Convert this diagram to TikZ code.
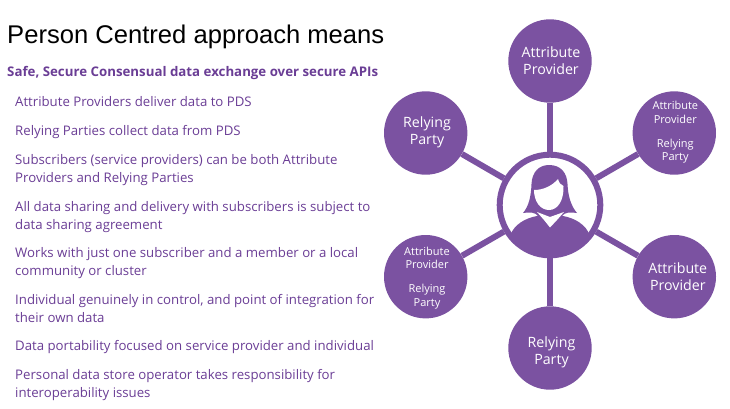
\documentclass[tikz,border=0pt]{standalone}
\usepackage{fontspec}
\usetikzlibrary{backgrounds}
\setmainfont{Open Sans}
\newfontfamily\titlefont{Liberation Sans}
\definecolor{disc}{HTML}{7B52A1}
\definecolor{ink}{HTML}{6A3D95}
\tikzset{
  x=1pt,y=-1pt,
  sat/.style={circle,fill=disc,minimum size=83.4pt,inner sep=0pt},
  big/.style={text=white,align=center,inner sep=0pt,font=\fontsize{14.2}{17}\selectfont},
  small/.style={text=white,align=center,inner sep=0pt,font=\fontsize{11}{13.5}\selectfont},
  hub/.style={circle,draw=disc,line width=6pt,fill=white,minimum size=100.6pt,inner sep=0pt},
  spoke/.style={draw=disc,line width=6pt},
  bullet/.style={anchor=base west,inner sep=0pt,text=ink,font=\fontsize{13.22}{15}\selectfont},
}
\begin{document}
\begin{tikzpicture}
\useasboundingbox (0,0) rectangle (730,408);
\node[anchor=base west,inner sep=0pt,font=\titlefont\fontsize{25.6}{30}\selectfont] (title) at (7,43) {Person Centred approach means};
\node[bullet,font=\bfseries\fontsize{13.28}{15}\selectfont] (lead) at (7,76.5) {Safe, Secure Consensual data exchange over secure APIs};
\node[bullet] (t1) at (15,106) {Attribute Providers deliver data to PDS};
\node[bullet] (t2) at (15,135.5) {Relying Parties collect data from PDS};
\node[bullet] (t3) at (15,164) {Subscribers (service providers) can be both Attribute};
\node[bullet] (t3b) at (15,182) {Providers and Relying Parties};
\node[bullet] (t4) at (15,211.5) {All data sharing and delivery with subscribers is subject to};
\node[bullet] (t4b) at (15,229) {data sharing agreement};
\node[bullet] (t5) at (15,257.5) {Works with just one subscriber and a member or a local};
\node[bullet] (t5b) at (15,275) {community or cluster};
\node[bullet] (t6) at (15,304) {Individual genuinely in control, and point of integration for};
\node[bullet] (t6b) at (15,322) {their own data};
\node[bullet] (t7) at (15,350) {Data portability focused on service provider and individual};
\node[bullet] (t8) at (15,379) {Personal data store operator takes responsibility for};
\node[bullet] (t8b) at (15,397) {interoperability issues};

% Hub and its six surrounding discs
\node[hub] (hubnode) at (550,205) {};
\node[sat] (n1) at (550,61) {};
\node[sat] (n2) at (425.7,133) {};
\node[sat] (n3) at (674.3,133) {};
\node[sat] (n4) at (674.3,276.7) {};
\node[sat] (n5) at (550,348) {};
\node[sat] (n6) at (425.7,276.7) {};
\begin{scope}[on background layer]
\foreach \n in {n1,n2,n3,n4,n5,n6} \path[spoke] (hubnode) -- (\n);
\end{scope}
% Disc captions
\node[big] (l1) at ([shift={(1,-0.6)}]n1.center) {Attribute\\Provider};
\node[big] (l2) at ([shift={(1.3,-0.3)}]n2.center) {Relying\\Party};
\node[small] (l3) at ([shift={(1,-0.5)}]n3.center) {Attribute\\Provider\\[10.5pt]Relying\\Party};
\node[big] (l4) at ([shift={(3.5,0.3)}]n4.center) {Attribute\\Provider};
\node[big] (l5) at ([shift={(1.5,4)}]n5.center) {Relying\\Party};
\node[small] (l6) at ([shift={(1.3,1.2)}]n6.center) {Attribute\\Provider\\[10.5pt]Relying\\Party};
% Silhouette of the person inside the hub
\begin{scope}
\clip (hubnode.center) circle (48);
% shoulders
\fill[disc] (500,265) -- (510,236) .. controls (514,224) and (526,218) .. (537,216) -- (563,216)
  .. controls (574,218) and (586,224) .. (590,236) -- (600,265) -- cycle;
% hair and neck
\fill[disc] (523,213) .. controls (529,206) and (531,196) .. (531.5,184)
  .. controls (532,172) and (539,165) .. (549,165)
  .. controls (561,165) and (567,173) .. (567.5,184)
  .. controls (568,196) and (571,206) .. (577,213)
  .. controls (570,212) and (565,212) .. (562,216) -- (538,216)
  .. controls (535,212) and (530,212) .. (523,213) -- cycle;
% face with a swept fringe
\fill[white] (534,190) .. controls (543,190) and (552,186) .. (558,179)
  .. controls (559,183) and (561,185) .. (563.5,186)
  .. controls (564,200) and (558,210) .. (549,210)
  .. controls (540,210) and (534,201) .. (534,190) -- cycle;
% white collar
\fill[white] (537,212) -- (550,217) -- (564,212) -- (557,220) -- (550,227.5) -- (544,220) -- cycle;
\end{scope}
\end{tikzpicture}
\end{document}
